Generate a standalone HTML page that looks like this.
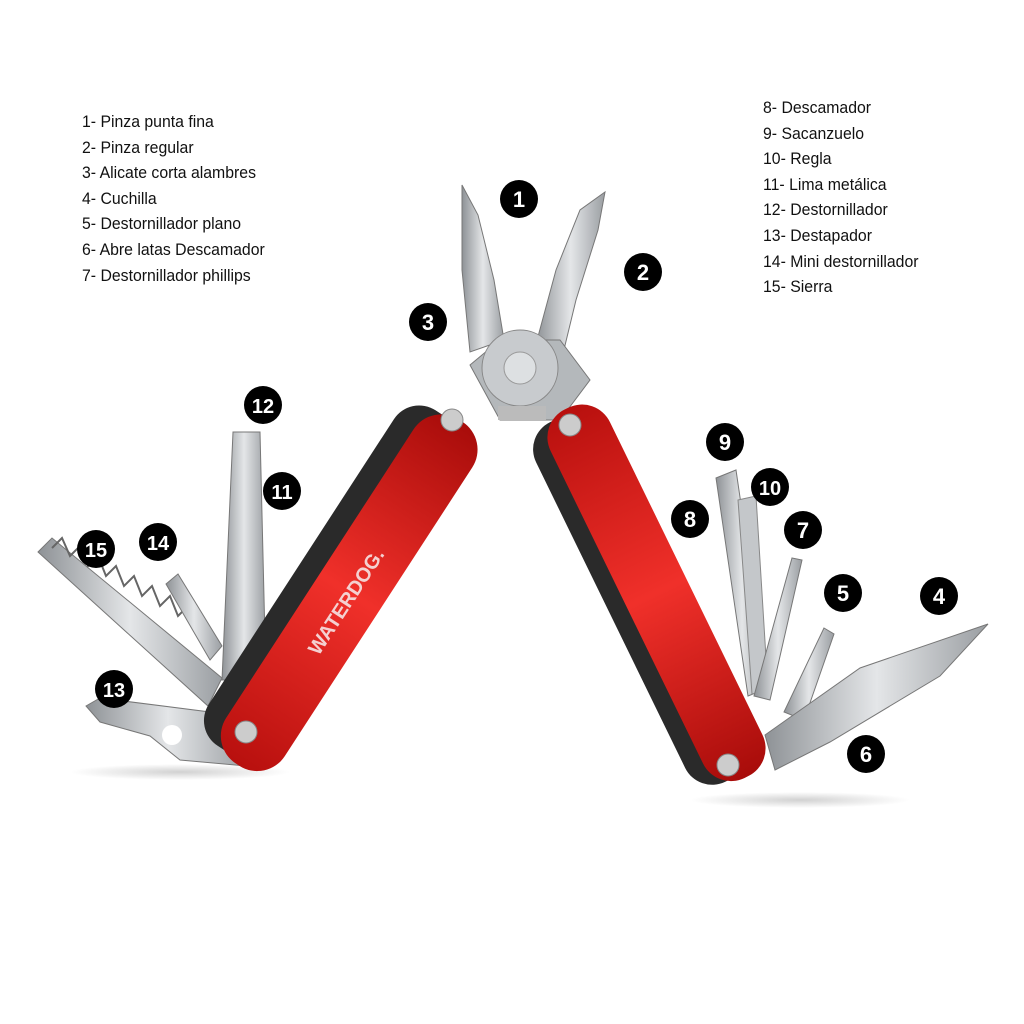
<!DOCTYPE html>
<html><head><meta charset="utf-8"><style>
html,body{margin:0;padding:0;background:#fff;}
.wrap{position:relative;width:1024px;height:1024px;overflow:hidden;}
.list{position:absolute;font-family:"Liberation Sans",sans-serif;font-size:17px;color:#111;line-height:25.6px;transform:scaleX(0.93);transform-origin:left top;white-space:nowrap;}
svg{position:absolute;left:0;top:0;}
</style></head><body><div class="wrap">
<svg width="1024" height="1024" viewBox="0 0 1024 1024">
<defs>
<linearGradient id="st" x1="0" y1="0" x2="1" y2="0"><stop offset="0" stop-color="#8e9296"/><stop offset="0.5" stop-color="#e4e6e8"/><stop offset="1" stop-color="#9a9ea2"/></linearGradient>
<linearGradient id="rd" x1="0" y1="0" x2="1" y2="0"><stop offset="0" stop-color="#b8100e"/><stop offset="0.5" stop-color="#f0302a"/><stop offset="1" stop-color="#a80c0a"/></linearGradient>
<radialGradient id="sh"><stop offset="0" stop-color="#000" stop-opacity="0.18"/><stop offset="1" stop-color="#000" stop-opacity="0"/></radialGradient>
</defs>
<ellipse cx="180" cy="772" rx="110" ry="8" fill="url(#sh)"/>
<ellipse cx="800" cy="800" rx="110" ry="8" fill="url(#sh)"/>
<polygon points="38,552 52,538 222,678 208,706" fill="url(#st)" stroke="#777"/>
<polyline points="52,548 62,538 70,556 80,546 88,566 98,556 106,576 116,566 124,586 134,576 142,596 152,586 160,606 170,596 178,616 188,606 196,626" fill="none" stroke="#666" stroke-width="2"/>
<polygon points="166,584 178,574 222,646 210,660" fill="url(#st)" stroke="#777"/>
<polygon points="233,432 260,432 266,680 222,680" fill="url(#st)" stroke="#777"/>
<polygon points="86,706 100,698 210,712 250,740 246,766 180,760 150,736 100,722" fill="url(#st)" stroke="#777"/>
<circle cx="172" cy="735" r="10" fill="#fff"/>
<polygon points="462,185 478,215 494,280 504,340 470,352 462,270" fill="url(#st)" stroke="#777"/>
<polygon points="605,192 598,230 576,300 560,366 536,344 556,270 580,210" fill="url(#st)" stroke="#777"/>
<polygon points="470,365 500,340 560,340 590,380 560,420 500,420" fill="#b4b8bb" stroke="#777"/>
<circle cx="520" cy="368" r="38" fill="#c8cbce" stroke="#888"/>
<circle cx="520" cy="368" r="16" fill="#dde0e2" stroke="#999"/>
<rect x="498" y="406" width="48" height="14" fill="#bbb"/>
<polygon points="716,478 736,470 768,688 748,696" fill="url(#st)" stroke="#777"/>
<polygon points="738,500 756,496 768,690 752,694" fill="#c4c7ca" stroke="#888"/>
<polygon points="792,558 802,560 770,700 754,696" fill="url(#st)" stroke="#777"/>
<polygon points="824,628 834,634 804,720 784,712" fill="url(#st)" stroke="#777"/>
<polygon points="765,735 860,668 988,624 940,676 830,742 775,770" fill="url(#st)" stroke="#777"/>
<g transform="translate(345,590) rotate(-57)">
<rect x="-200" y="-52" width="400" height="76" rx="30" fill="#2a2a2a"/>
<rect x="-205" y="-30" width="410" height="70" rx="33" fill="url(#rd)"/>
<text x="-70" y="14" font-family="Liberation Sans,sans-serif" font-weight="bold" font-size="20" fill="#f4d0d0">WATERDOG.</text>
</g>
<circle cx="452" cy="420" r="11" fill="#ccc" stroke="#888"/>
<circle cx="246" cy="732" r="11" fill="#ccc" stroke="#888"/>
<g transform="translate(652,595) rotate(64)">
<rect x="-200" y="-24" width="400" height="70" rx="30" fill="#2a2a2a"/>
<rect x="-205" y="-38" width="410" height="66" rx="31" fill="url(#rd)"/>
</g>
<circle cx="570" cy="425" r="11" fill="#ccc" stroke="#888"/>
<circle cx="728" cy="765" r="11" fill="#ccc" stroke="#888"/>
<g font-family="Liberation Sans,sans-serif" font-weight="bold" font-size="22" fill="#fff" text-anchor="middle">
<circle cx="519" cy="199" r="19" fill="#000"/><text x="519" y="207">1</text>
<circle cx="643" cy="272" r="19" fill="#000"/><text x="643" y="280">2</text>
<circle cx="428" cy="322" r="19" fill="#000"/><text x="428" y="330">3</text>
<circle cx="939" cy="596" r="19" fill="#000"/><text x="939" y="604">4</text>
<circle cx="843" cy="593" r="19" fill="#000"/><text x="843" y="601">5</text>
<circle cx="866" cy="754" r="19" fill="#000"/><text x="866" y="762">6</text>
<circle cx="803" cy="530" r="19" fill="#000"/><text x="803" y="538">7</text>
<circle cx="690" cy="519" r="19" fill="#000"/><text x="690" y="527">8</text>
<circle cx="725" cy="442" r="19" fill="#000"/><text x="725" y="450">9</text>
<circle cx="770" cy="487" r="19" fill="#000"/><text x="770" y="495" font-size="20">10</text>
<circle cx="282" cy="491" r="19" fill="#000"/><text x="282" y="499" font-size="20">11</text>
<circle cx="263" cy="405" r="19" fill="#000"/><text x="263" y="413" font-size="20">12</text>
<circle cx="114" cy="689" r="19" fill="#000"/><text x="114" y="697" font-size="20">13</text>
<circle cx="158" cy="542" r="19" fill="#000"/><text x="158" y="550" font-size="20">14</text>
<circle cx="96" cy="549" r="19" fill="#000"/><text x="96" y="557" font-size="20">15</text>
</g>
</svg>
<div class="list" style="left:82px;top:109px;">1- Pinza punta fina<br>2- Pinza regular<br>3- Alicate corta alambres<br>4- Cuchilla<br>5- Destornillador plano<br>6- Abre latas Descamador<br>7- Destornillador phillips</div>
<div class="list" style="left:763px;top:95px;">8- Descamador<br>9- Sacanzuelo<br>10- Regla<br>11- Lima metálica<br>12- Destornillador<br>13- Destapador<br>14- Mini destornillador<br>15- Sierra</div>
</div></body></html>
